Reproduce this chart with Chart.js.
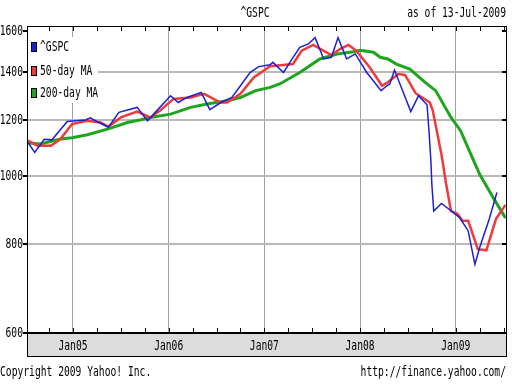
<!DOCTYPE html>
<html>
<head>
<meta charset="utf-8">
<title>^GSPC</title>
<script src="https://cdn.jsdelivr.net/npm/chart.js@4.4.1/dist/chart.umd.min.js"></script>
<style>
  html, body { margin: 0; padding: 0; background: #fff; }
  #wrap { width: 512px; height: 388px; }
</style>
</head>
<body>
<div id="wrap"><canvas id="chart" width="512" height="388"></canvas></div>
<script>
// values. x = decimal year, y = index level

const gspcT = [2004.53, 2004.60, 2004.70, 2004.78, 2004.94, 2005.13, 2005.18, 2005.25, 2005.37, 2005.48,
               2005.67, 2005.78, 2005.86, 2006.02, 2006.10, 2006.19, 2006.34, 2006.43, 2006.55, 2006.66,
               2006.75, 2006.85, 2006.94, 2007.06, 2007.09, 2007.20, 2007.29, 2007.37, 2007.46, 2007.53,
               2007.62, 2007.70, 2007.77, 2007.86, 2007.95, 2008.07, 2008.22, 2008.28, 2008.31, 2008.36,
               2008.53, 2008.61, 2008.70, 2008.72, 2008.74, 2008.75, 2008.77, 2008.85, 2008.93, 2009.04,
               2009.13, 2009.20, 2009.25, 2009.35, 2009.43];
const gspcV = [1115, 1079, 1126, 1124, 1193, 1199, 1207, 1193, 1171, 1229,
               1249, 1196, 1229, 1297, 1269, 1290, 1311, 1240, 1270, 1290,
               1340, 1399, 1426, 1435, 1446, 1399, 1462, 1518, 1535, 1567,
               1462, 1470, 1567, 1462, 1486, 1399, 1319, 1340, 1348, 1410,
               1232, 1297, 1260, 1158, 1050, 973, 892, 914, 897, 873,
               836, 750, 792, 869, 947];

const ma50T = [2004.53, 2004.63, 2004.77, 2004.87, 2004.99, 2005.15, 2005.29, 2005.37, 2005.50, 2005.67,
               2005.81, 2005.91, 2006.05, 2006.23, 2006.37, 2006.54, 2006.61, 2006.75, 2006.89, 2007.06,
               2007.30, 2007.39, 2007.51, 2007.70, 2007.79, 2007.88, 2007.96, 2008.10, 2008.23, 2008.29,
               2008.40, 2008.47, 2008.58, 2008.73, 2008.76, 2008.85, 2008.90, 2008.95, 2009.02, 2009.07,
               2009.13, 2009.23, 2009.32, 2009.42, 2009.52];
const ma50V = [1121, 1103, 1103, 1127, 1183, 1196, 1189, 1173, 1209, 1232,
               1209, 1236, 1284, 1290, 1305, 1269, 1269, 1305, 1377, 1428,
               1438, 1502, 1530, 1481, 1510, 1530, 1502, 1423, 1340, 1355,
               1392, 1388, 1308, 1269, 1236, 1073, 973, 892, 883, 864,
               864, 788, 785, 869, 910];

const ma200T = [2004.53, 2004.66, 2004.87, 2004.99, 2005.15, 2005.36, 2005.57, 2005.71, 2005.81, 2006.02,
                2006.23, 2006.40, 2006.61, 2006.75, 2006.91, 2007.06, 2007.16, 2007.37, 2007.58, 2007.76,
                2007.93, 2008.00, 2008.14, 2008.21, 2008.29, 2008.38, 2008.52, 2008.68, 2008.79, 2008.95,
                2009.05, 2009.18, 2009.25, 2009.39, 2009.52];
const ma200V = [1113, 1109, 1127, 1132, 1143, 1164, 1189, 1200, 1209, 1222,
                1249, 1263, 1276, 1290, 1319, 1333, 1348, 1399, 1462, 1486,
                1497, 1504, 1494, 1470, 1462, 1438, 1415, 1355, 1319, 1209,
                1158, 1056, 1005, 932, 872];

const yTicks = [600, 800, 1000, 1200, 1400, 1600];
const yearTicks = [2005, 2006, 2007, 2008, 2009];
const yearLabels = ['Jan05', 'Jan06', 'Jan07', 'Jan08', 'Jan09'];
const quarterTicks = [2004.75, 2005, 2005.25, 2005.5, 2005.75, 2006, 2006.25, 2006.5, 2006.75,
                      2007, 2007.25, 2007.5, 2007.75, 2008, 2008.25, 2008.5, 2008.75,
                      2009, 2009.25, 2009.5];

const FONT = "'DejaVu Sans Mono', monospace";

function pts(t, v) {
    return t.map((x, i) => ({ x: x, y: v[i] }));
}

// narrow "bitmap" look of the yahoo font
function narrowText(ctx, str, x, y, align) {
    ctx.save();
    ctx.font = '14px ' + FONT;
    ctx.fillStyle = '#000';
    ctx.textBaseline = 'middle';
    ctx.textAlign = align;
    ctx.translate(x, y);
    ctx.scale(0.69, 1);
    ctx.fillText(str, 0, 0);
    ctx.restore();
}

const decor = {
    id: 'decor',
    beforeDraw(chart) {
        const { ctx, chartArea: a } = chart;
        ctx.save();
        ctx.fillStyle = '#dcdcdc';
        ctx.fillRect(a.left, a.bottom, a.right - a.left, 24);
        ctx.restore();
    },
    afterDraw(chart) {
        const { ctx, chartArea: a, scales } = chart;
        const xs = scales.x, ys = scales.y;
        ctx.save();
        ctx.fillStyle = '#000';

        // frame + band border
        ctx.fillRect(a.left - 1, a.top - 1, a.right - a.left + 2, 1);
        ctx.fillRect(a.left - 1, a.top - 1, 1, a.bottom - a.top + 25);
        ctx.fillRect(a.right, a.top - 1, 1, a.bottom - a.top + 25);
        ctx.fillRect(a.left - 1, a.bottom - 1, a.right - a.left + 2, 2);
        ctx.fillRect(a.left - 1, a.bottom + 23, a.right - a.left + 2, 1);

        // y ticks, outside left and inside right
        yTicks.forEach(v => {
            const py = Math.round(ys.getPixelForValue(v));
            ctx.fillRect(a.left - 5, py - 1, 4, 2);
            ctx.fillRect(a.right - 4, py - 1, 4, 2);
            narrowText(ctx, String(v), a.left - 5, py, 'right');
        });

        // quarter ticks on top and bottom edge
        quarterTicks.forEach(q => {
            const px = Math.round(xs.getPixelForValue(q));
            ctx.fillRect(px, a.top, 1, 4);
            ctx.fillRect(px, a.bottom - 5, 1, 4);
        });

        yearTicks.forEach((v, i) => {
            narrowText(ctx, yearLabels[i], xs.getPixelForValue(v), a.bottom + 13, 'center');
        });

        // legend box
        ctx.fillStyle = '#fff';
        ctx.fillRect(a.left, 37, 70, 66);
        const legendY = [47, 71, 93];
        chart.data.datasets.forEach((ds, i) => {
            const cy = legendY[i];
            ctx.fillStyle = ds.borderColor;
            ctx.fillRect(a.left + 3, cy - 5, 6, 10);
            ctx.strokeStyle = '#000';
            ctx.lineWidth = 1;
            ctx.strokeRect(a.left + 3.5, cy - 4.5, 5, 9);
            narrowText(ctx, ds.label, a.left + 12, cy, 'left');
        });

        // header / footer
        narrowText(ctx, '^GSPC', 255, 13, 'center');
        narrowText(ctx, 'as of 13-Jul-2009', a.right, 13, 'right');
        narrowText(ctx, 'Copyright 2009 Yahoo! Inc.', 0, 372, 'left');
        narrowText(ctx, 'http://finance.yahoo.com/', a.right, 372, 'right');
        ctx.restore();
    }
};

new Chart(document.getElementById('chart'), {
    type: 'line',
    data: {
        datasets: [
            {
                label: '^GSPC',
                data: pts(gspcT, gspcV),
                borderColor: '#1e1ed2',
                borderWidth: 1.5,
                pointRadius: 0,
                tension: 0
            },
            {
                label: '50-day MA',
                data: pts(ma50T, ma50V),
                borderColor: '#ee3a3a',
                borderWidth: 2.5,
                pointRadius: 0,
                tension: 0
            },
            {
                label: '200-day MA',
                data: pts(ma200T, ma200V),
                borderColor: '#1ea51e',
                borderWidth: 3,
                pointRadius: 0,
                tension: 0
            }
        ]
    },
    options: {
        responsive: false,
        animation: false,
        events: [],
        layout: { padding: { top: 27, right: 6, bottom: 31, left: 0 } },
        plugins: {
            legend: { display: false },
            tooltip: { enabled: false }
        },
        scales: {
            x: {
                type: 'linear',
                min: 2004.53,
                max: 2009.525,
                afterBuildTicks: s => { s.ticks = yearTicks.map(v => ({ value: v })); },
                afterFit: s => { s.height = 24; },
                ticks: { display: false },
                grid: { color: '#a0a0a0', lineWidth: 1, drawTicks: false },
                border: { display: false }
            },
            y: {
                type: 'logarithmic',
                min: 600,
                max: 1622,
                afterBuildTicks: s => { s.ticks = yTicks.map(v => ({ value: v })); },
                afterFit: s => { s.width = 28; },
                ticks: { display: false },
                grid: {
                    color: c => (c.tick && (c.tick.value === 600 || c.tick.value === 1600)) ? 'rgba(0,0,0,0)' : '#b8b8b8',
                    lineWidth: 2,
                    drawTicks: false
                },
                border: { display: false }
            }
        }
    },
    plugins: [decor]
});
</script>
</body>
</html>
